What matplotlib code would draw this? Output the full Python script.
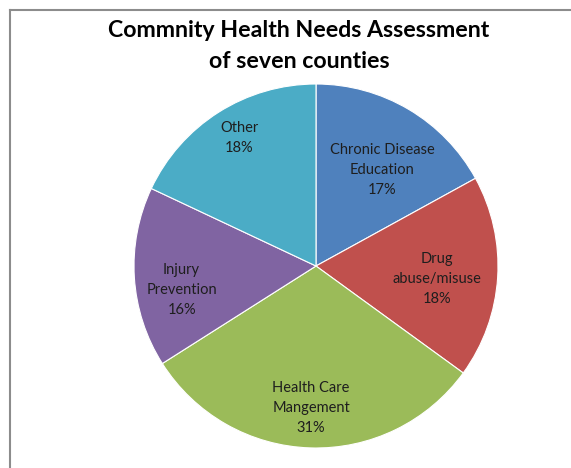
import matplotlib.pyplot as plt
import numpy as np

# data
labels = ['Chronic Disease\nEducation', 'Drug\nabuse/misuse', 'Health Care\nMangement',
          'Injury\nPrevention', 'Other']
shares = [17, 18, 31, 16, 18]
colors = ['#4F81BD', '#C0504D', '#9BBB59', '#8064A2', '#4BACC6']

# label placement (radius as fraction of pie radius, angle in degrees)
label_r = [0.64, 0.67, 0.78, 0.75, 0.82]
label_ang = [55.5, -6, -92, 190, 121]

plt.rcParams['font.family'] = ['Lato', 'DejaVu Sans']

fig = plt.figure(figsize=(5.71, 4.68), dpi=100)

# frame around chart area (cropped on right/bottom)
fig.add_artist(plt.Line2D([10/571, 10/571], [0, 1 - 10/468], color='#8c8c8c', lw=1.5,
                          transform=fig.transFigure))
fig.add_artist(plt.Line2D([10/571, 1], [1 - 10/468, 1 - 10/468], color='#8c8c8c', lw=1.5,
                          transform=fig.transFigure))

cx, cy, r = 316, 266, 182
ax = fig.add_axes([(cx - r) / 571, (468 - cy - r) / 468, 2 * r / 571, 2 * r / 468])
ax.pie(shares, colors=colors, startangle=90, counterclock=False,
       wedgeprops={'edgecolor': 'white', 'linewidth': 0.8})
ax.set_xlim(-1, 1)
ax.set_ylim(-1, 1)
ax.set_aspect('equal')
ax.axis('off')

for lab, s, rr, a in zip(labels, shares, label_r, label_ang):
    t = np.deg2rad(a)
    ax.text(rr * np.cos(t), rr * np.sin(t), f'{lab}\n{s}%', ha='center', va='center',
            fontsize=10.5, color='#1e1e1e', linespacing=1.55)

fig.text(299/571, 1 - 46/468, 'Commnity Health Needs Assessment\nof seven counties',
         ha='center', va='center', fontsize=16.7, fontweight='bold', linespacing=1.55)

fig.savefig('out.png', dpi=100)
